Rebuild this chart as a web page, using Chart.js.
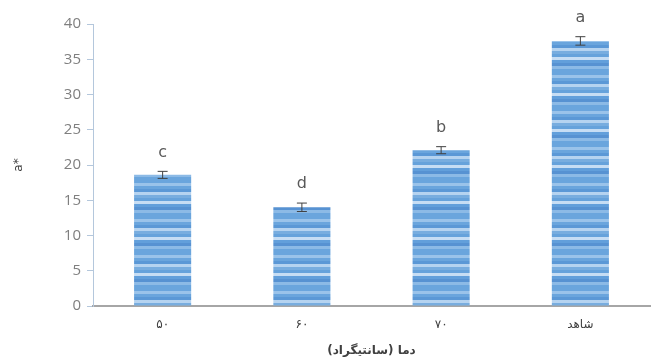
<!DOCTYPE html>
<html>
<head>
<meta charset="utf-8">
<script src="https://cdn.jsdelivr.net/npm/chart.js@4/dist/chart.umd.min.js"></script>
<style>
  html, body { margin: 0; padding: 0; background: #fff; }
  #wrap { width: 670px; height: 362px; }
</style>
</head>
<body>
<div id="wrap"><canvas id="barChart" width="670" height="362"></canvas></div>
<script>
// data
const categories = ['۵۰', '۶۰', '۷۰', 'شاهد'];
const values = [18.6, 14.0, 22.1, 37.6];
const errors = [0.5, 0.6, 0.5, 0.6];
const letters = ['c', 'd', 'b', 'a'];
const yTicks = [0, 5, 10, 15, 20, 25, 30, 35, 40];

// striped blue fill like the original
function stripePattern() {
  const c = document.createElement('canvas');
  c.width = 4; c.height = 36;
  const g = c.getContext('2d');
  const rows = ['#6aa5dd', '#9ac3ea', '#6aa5dd', '#5b98d6', '#b5d3f0', '#78addf',
                '#66a2db', '#c6ddf4', '#629fdb', '#5792d2', '#8cbae6', '#6aa5dd'];
  rows.forEach((col, i) => {
    g.fillStyle = col;
    g.fillRect(0, i * 3, 4, 3);
  });
  return g.createPattern(c, 'repeat');
}

// error bars + significance letters
const extras = {
  id: 'extras',
  afterDatasetsDraw(chart) {
    const ctx = chart.ctx;
    const meta = chart.getDatasetMeta(0);
    const y = chart.scales.y;
    ctx.save();
    meta.data.forEach((bar, i) => {
      const top = y.getPixelForValue(values[i] + errors[i]);
      const bot = y.getPixelForValue(values[i] - errors[i]);
      ctx.strokeStyle = '#404040';
      ctx.lineWidth = 1;
      ctx.beginPath();
      ctx.moveTo(bar.x, top); ctx.lineTo(bar.x, bot);
      ctx.moveTo(bar.x - 5, top); ctx.lineTo(bar.x + 5, top);
      ctx.moveTo(bar.x - 5, bot); ctx.lineTo(bar.x + 5, bot);
      ctx.stroke();
      ctx.fillStyle = '#595959';
      ctx.font = '16px "DejaVu Sans", sans-serif';
      ctx.textAlign = 'center';
      ctx.textBaseline = 'bottom';
      ctx.fillText(letters[i], bar.x, top - 11);
    });
    ctx.restore();
  }
};

const chart = new Chart(document.getElementById('barChart').getContext('2d'), {
  type: 'bar',
  data: {
    labels: categories,
    datasets: [{
      data: values,
      backgroundColor: stripePattern(),
      borderWidth: 0,
      barPercentage: 0.41,
      categoryPercentage: 1
    }]
  },
  options: {
    responsive: false,
    animation: false,
    layout: { padding: { top: 24, right: 20, left: 8, bottom: 4 } },
    plugins: { legend: { display: false }, tooltip: { enabled: false } },
    scales: {
      x: {
        grid: { display: false },
        border: { color: '#a6a6a6', width: 2 },
        ticks: { color: '#404040', font: { size: 12, family: 'DejaVu Sans' }, padding: 4 },
        title: {
          display: true,
          text: 'دما (سانتیگراد)',
          color: '#404040',
          font: { size: 12, family: 'DejaVu Sans', weight: 'bold' },
          padding: { top: 2, bottom: 0 }
        },
        afterFit(scale) { scale.height = 52; }
      },
      y: {
        min: 0,
        max: 40,
        afterBuildTicks(scale) { scale.ticks = yTicks.map(v => ({ value: v })); },
        grid: { drawOnChartArea: false, drawTicks: true, tickLength: 6, color: '#b4c7dc' },
        border: { color: '#b4c7dc' },
        ticks: { color: '#7f7f7f', font: { size: 15, family: 'Open Sans' }, padding: 6 },
        title: {
          display: true,
          text: 'a*',
          color: '#404040',
          font: { size: 12, family: 'DejaVu Sans' },
          padding: { bottom: 8 }
        },
        afterFit(scale) { scale.width = 85; }
      }
    }
  },
  plugins: [extras]
});
</script>
</body>
</html>
